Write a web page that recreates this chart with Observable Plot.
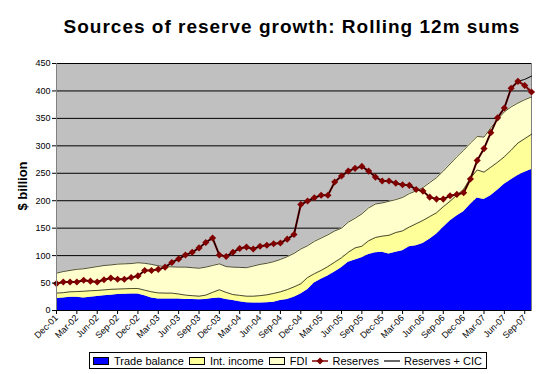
<!DOCTYPE html>
<html><head><meta charset="utf-8">
<script src="https://cdn.jsdelivr.net/npm/d3@7"></script>
<script src="https://cdn.jsdelivr.net/npm/@observablehq/plot@0.6"></script>
<style>
body{margin:0;background:#fff;font-family:Arial,"Liberation Sans",sans-serif;}
#wrap{position:relative;width:547px;height:374px;overflow:hidden;}
#title{position:absolute;left:0;width:584px;top:16px;text-align:center;font-size:19px;letter-spacing:1px;font-weight:bold;line-height:22px;color:#000;}
#ylab{position:absolute;left:22px;top:186px;transform:translate(-50%,-50%) rotate(-90deg);font-size:13px;font-weight:bold;white-space:nowrap;}
#legend{position:absolute;left:89px;top:352px;height:15px;border:1px solid #000;background:#fff;display:flex;align-items:center;font-size:11px;padding:0 4px 0 3px;white-space:nowrap;}
#legend .it{display:flex;align-items:center;margin-right:5px;}
#legend .it:last-child{margin-right:0;}
#legend .sw{width:14px;height:6px;border:1px solid #000;margin-right:5px;}
#legend svg{margin-right:4px;}
</style></head>
<body>
<div id="wrap">
<div id="title">Sources of reserve growth: Rolling 12m sums</div>
<div id="ylab">$ billion</div>
<div id="chart"></div>
<div id="legend"></div>
</div>
<script>
const months = ["Dec-01","Jan-02","Feb-02","Mar-02","Apr-02","May-02","Jun-02","Jul-02","Aug-02","Sep-02","Oct-02","Nov-02",
"Dec-02","Jan-03","Feb-03","Mar-03","Apr-03","May-03","Jun-03","Jul-03","Aug-03","Sep-03","Oct-03","Nov-03",
"Dec-03","Jan-04","Feb-04","Mar-04","Apr-04","May-04","Jun-04","Jul-04","Aug-04","Sep-04","Oct-04","Nov-04",
"Dec-04","Jan-05","Feb-05","Mar-05","Apr-05","May-05","Jun-05","Jul-05","Aug-05","Sep-05","Oct-05","Nov-05",
"Dec-05","Jan-06","Feb-06","Mar-06","Apr-06","May-06","Jun-06","Jul-06","Aug-06","Sep-06","Oct-06","Nov-06",
"Dec-06","Jan-07","Feb-07","Mar-07","Apr-07","May-07","Jun-07","Jul-07","Aug-07","Sep-07","Oct-07"];

const xTickLabels = ["Dec-01","Mar-02","Jun-02","Sep-02","Dec-02","Mar-03","Jun-03","Sep-03","Dec-03","Mar-04","Jun-04","Sep-04",
"Dec-04","Mar-05","Jun-05","Sep-05","Dec-05","Mar-06","Jun-06","Sep-06","Dec-06","Mar-07","Jun-07","Sep-07"];
const yTicks = [0,50,100,150,200,250,300,350,400,450];

const tradeBalance = [22,23,24,24,23,24,25.5,27,28,29,
29.5,30,30,27,23,21,21,21,21,20,
20,19.5,20,22,23,20,18,16,14,13.5,
13.5,14,15,18,20,24,30,38,50,57,
63,70,78,88,92,96,102,105,106,103,
106,109,116,118,122,130,139,151,163,172,
180,193,205,202,209,219,230,238,246,252,257];

const intIncome = [9.6,9.5,10,10.5,12,12,11,10.5,10.5,10,
10,10,10,10,11,11,10.6,10.6,9,8,
7,6.5,8,11,14.7,13,11,11.5,12,12.5,
13.5,14.5,16,16,18,19,18.6,22,17,16,
17,18,18,18,22,21,25,28,29.5,34,
36,36,36,40,42,41,39,38,36,38,
41,48,51,50,52,51,50,54,59,61,64];

const fdi = [36.4,38.5,39,40.5,41,42,43.5,44.5,44.5,45.5,
45.5,45.5,47,49,50,49.5,48.4,47.9,49,51,
51,51,51,49,47.3,47,50,51,52,55,
57,57.5,58,59,60,61,63.4,58,59,59,
58,57,54,55,54,59,60,61,60.5,62,
60,61,61,60,60,62,64,65,68,70,
71,64,61,64,72,78,82,79,73,71,68];

const reserves = [49,52,52,52,55,53.5,52,56,59,57,
57,60,63,73,73,75,79,87.5,94,101,
106,114,124,132,101,98.5,106,113,115.5,112,
117,119,121.5,123,130,138.5,193,199.5,205.5,210,
210,234,245,254,259,262.5,254,243,236,236,
232,229,228,220.5,217.5,206.5,203,203,209,211.5,
214.5,239.5,273.5,295,324,351,369,405,417.5,410,398];

const reservesCIC = [49,52,52,52,55,53.5,52,56,59,57,
57,60,63,73,73,75,79,87.5,94,101,
106,114,124,132,101,98.5,106,113,115.5,112,
117,119,121.5,123,130,138.5,193,199.5,205.5,210,
210,234,245,254,259,262.5,254,243,236,236,
232,229,228,220.5,217.5,206.5,203,203,209,211.5,
214.5,239.5,273.5,295,324,351,369,405,417.5,421,427];

const colors = {trade:"#0000FF", inc:"#FFFF99", fdi:"#FFFFCC", res:"#800000", cic:"#000000", bg:"#C0C0C0"};

const idx = d3.range(months.length);
const lvl1 = idx.map(i => tradeBalance[i]);
const lvl2 = idx.map(i => tradeBalance[i] + intIncome[i]);
const lvl3 = idx.map(i => tradeBalance[i] + intIncome[i] + fdi[i]);
const tickIdx = xTickLabels.map(l => months.indexOf(l));

const chart = Plot.plot({
  width: 547, height: 374,
  marginLeft: 56, marginRight: 16, marginTop: 63, marginBottom: 64,
  style: {fontFamily: "Arial, 'Liberation Sans', sans-serif", fontSize: "9px", color: "#000", background: "transparent"},
  x: {type: "linear", domain: [0, months.length - 1]},
  y: {domain: [0, 450]},
  marks: [
    Plot.frame({fill: colors.bg, stroke: "#808080"}),
    Plot.ruleY(yTicks.slice(1), {stroke: "#000", strokeWidth: 1}),
    Plot.areaY(idx, {x: i => i, y1: 0, y2: i => lvl1[i], fill: colors.trade}),
    Plot.areaY(idx, {x: i => i, y1: i => lvl1[i], y2: i => lvl2[i], fill: colors.inc}),
    Plot.areaY(idx, {x: i => i, y1: i => lvl2[i], y2: i => lvl3[i], fill: colors.fdi}),
    Plot.lineY(idx, {x: i => i, y: i => lvl2[i], stroke: "#000", strokeWidth: 0.7}),
    Plot.lineY(idx, {x: i => i, y: i => lvl3[i], stroke: "#000", strokeWidth: 0.7}),
    Plot.lineY(idx, {x: i => i, y: i => reserves[i], stroke: colors.res, strokeWidth: 2}),
    Plot.lineY(idx, {x: i => i, y: i => reservesCIC[i], stroke: colors.cic, strokeWidth: 1}),
    Plot.dot(idx.slice(0, reserves.length), {x: i => i, y: i => reserves[i], symbol: "diamond2", r: 3.2, fill: colors.res, stroke: "none"}),
    Plot.ruleX([0], {stroke: "#808080"}),
    Plot.ruleY([0], {stroke: "#000"}),
    Plot.axisY({ticks: yTicks, tickSize: 4, tickPadding: 2, label: null, tickFormat: d => d}),
    Plot.axisX({ticks: tickIdx, tickSize: 4, tickPadding: 2, tickRotate: -45, label: null, tickFormat: i => months[i]})
  ]
});
document.getElementById("chart").appendChild(chart);

const leg = document.getElementById("legend");
const items = [
  {type: "sw", color: colors.trade, label: "Trade balance"},
  {type: "sw", color: colors.inc, label: "Int. income"},
  {type: "sw", color: colors.fdi, label: "FDI"},
  {type: "mk", color: colors.res, label: "Reserves"},
  {type: "ln", color: colors.cic, label: "Reserves + CIC"}
];
for (const it of items) {
  const d = document.createElement("div");
  d.className = "it";
  if (it.type === "sw") {
    d.innerHTML = `<span class="sw" style="background:${it.color}"></span>${it.label}`;
  } else if (it.type === "mk") {
    d.innerHTML = `<svg width="16" height="10"><line x1="0" y1="5" x2="16" y2="5" stroke="${it.color}" stroke-width="1.5"/><path d="M8,1.5L11.5,5L8,8.5L4.5,5Z" fill="${it.color}"/></svg>${it.label}`;
  } else {
    d.innerHTML = `<svg width="16" height="10"><line x1="0" y1="5" x2="16" y2="5" stroke="${it.color}" stroke-width="1.2"/></svg>${it.label}`;
  }
  leg.appendChild(d);
}
</script>
</body></html>
